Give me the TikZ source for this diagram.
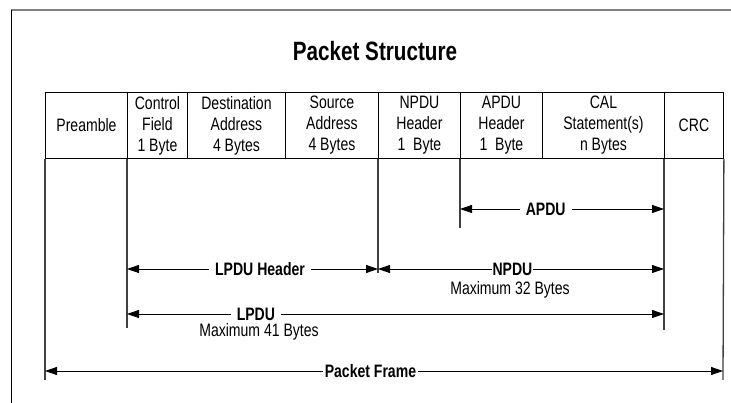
\documentclass[tikz,border=0pt]{standalone}
\usepackage{fontspec}
\setmainfont{Liberation Sans}[FakeStretch=0.78]
\usetikzlibrary{arrows.meta}
\begin{document}
\begin{tikzpicture}[x=1pt,y=-1pt,
  txt/.style={font=\fontsize{18}{21}\selectfont},
  cell/.style={draw=black, line width=0.9pt, anchor=north west, minimum height=66pt, inner sep=0pt, align=center, txt},
  ext/.style={draw=black!75, line width=1.3pt},
  dim/.style={draw=black, line width=0.8pt, {Triangle[length=12pt,width=8pt]}-{Triangle[length=12pt,width=8pt]}},
  lab/.style={fill=white, inner ysep=2pt, inner xsep=6pt, font=\fontsize{18}{21}\selectfont\bfseries},
  sub/.style={txt, inner sep=0pt}
]
\useasboundingbox (0,0) rectangle (731,403);
% frame
\draw[gray, line width=2pt] (11,10) -- (731,10);
\draw[black, line width=1pt] (11,10) -- (11,403);
% title
\node[font=\fontsize{26.5}{30}\selectfont\bfseries] (title) at (375,51) {Packet Structure};
% table cells
\node[cell, minimum width=82pt]  (pre) at (45,92)  {Preamble};
\node[cell, minimum width=60pt]  (ctl) at (127,92) {Control\\Field\\1 Byte};
\node[cell, minimum width=98pt]  (dst) at (187,92) {Destination\\Address\\4 Bytes};
\node[cell, minimum width=93pt]  (src) at (285,92) {Source\\Address\\4 Bytes};
\node[cell, minimum width=82pt]  (npd) at (378,92) {NPDU\\Header\\1\ \ Byte};
\node[cell, minimum width=82pt]  (apd) at (460,92) {APDU\\Header\\1\ \ Byte};
\node[cell, minimum width=122pt] (cal) at (542,92) {CAL\\Statement(s)\\n Bytes};
\node[cell, minimum width=59pt]  (crc) at (664,92) {CRC};
% extension line ends
\coordinate (e1) at (45,380);
\coordinate (e2) at (723,380);
\coordinate (e3) at (127,328);
\coordinate (e4) at (664,330);
\coordinate (e5) at (378,273);
\coordinate (e6) at (460,228);
\draw[ext] (pre.south west) -- (e1);
\draw[ext] (crc.south east) -- (e2);
\draw[ext] (ctl.south west) -- (e3);
\draw[ext] (crc.south west) -- (e4);
\draw[ext] (npd.south west) -- (e5);
\draw[ext] (apd.south west) -- (e6);
% dimension arrows
\coordinate (a1) at (460,209); \coordinate (a2) at (664,209);
\coordinate (h1) at (127,269); \coordinate (h2) at (378,269);
\coordinate (n1) at (378,269); \coordinate (n2) at (664,269);
\coordinate (l1) at (127,314); \coordinate (l2) at (664,314);
\coordinate (p1) at (45,371);  \coordinate (p2) at (723,371);
\draw[dim] (a1) -- node[lab, pos=0.42] (apdu) {APDU} (a2);
\draw[dim] (h1) -- node[lab, pos=0.53] (lpduh) {LPDU Header} (h2);
\draw[dim] (n1) -- node[lab, pos=0.47, inner xsep=1pt] (npdu) {NPDU} (n2);
\draw[dim] (l1) -- node[lab, pos=0.24] (lpdu) {LPDU} (l2);
\draw[dim] (p1) -- node[lab, pos=0.48, inner xsep=2pt] (pf) {Packet Frame} (p2);
\node[sub] (n32) at (510,290) {Maximum 32 Bytes};
\node[sub] (n41) at (259,332) {Maximum 41 Bytes};
\end{tikzpicture}
\end{document}
